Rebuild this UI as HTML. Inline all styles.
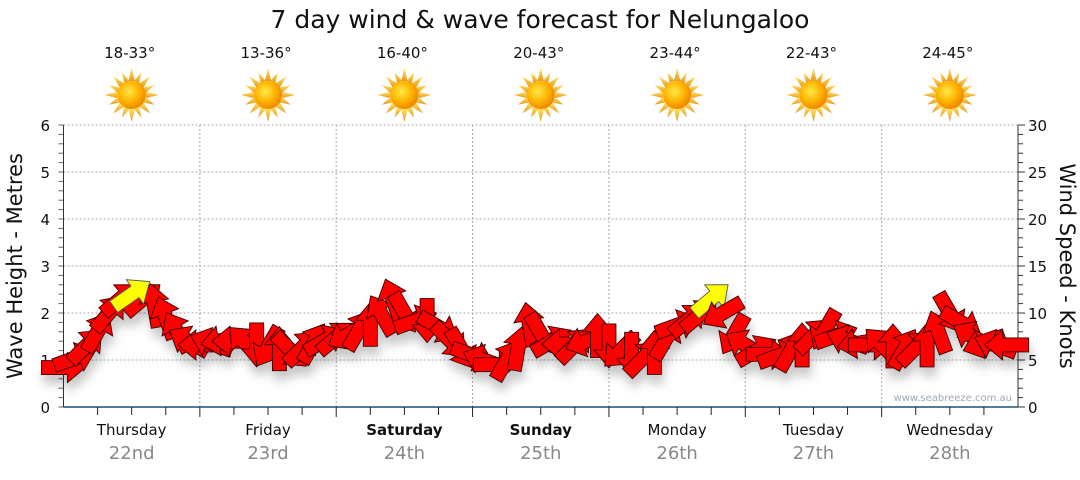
<!DOCTYPE html>
<html><head><meta charset="utf-8">
<style>
body{margin:0;background:#fff;width:1080px;height:475px;overflow:hidden;font-family:"Liberation Sans","DejaVu Sans",sans-serif;}
svg text{font-family:"DejaVu Sans","Liberation Sans",sans-serif;}
</style></head>
<body>
<svg id="chart" width="1080" height="475" viewBox="0 0 1080 475" xmlns="http://www.w3.org/2000/svg">
<defs>
<filter id="shadow" x="-50%" y="-50%" width="200%" height="200%">
<feDropShadow dx="2" dy="9" stdDeviation="5" flood-color="#000" flood-opacity="0.22"/>
</filter>
<radialGradient id="sunG" cx="40%" cy="38%" r="60%">
<stop offset="0" stop-color="#ffe94a"/><stop offset="0.6" stop-color="#ffb400"/><stop offset="1" stop-color="#f08a00"/>
</radialGradient>
<linearGradient id="rayG" x1="0" y1="0" x2="0" y2="1"><stop offset="0" stop-color="#ffe060"/><stop offset="1" stop-color="#e89a20"/></linearGradient>
<symbol id="sun" viewBox="-25 -25 50 50">
<g fill="url(#rayG)">
<polygon points="0,-25 3,-13 -3,-13"/><polygon points="0,25 3,13 -3,13"/>
<polygon points="-25,0 -13,3 -13,-3"/><polygon points="25,0 13,3 13,-3"/>
<polygon points="-17,-17 -7,-11 -11,-7"/><polygon points="17,-17 7,-11 11,-7"/>
<polygon points="-17,17 -7,11 -11,7"/><polygon points="17,17 7,11 11,7"/>
<polygon points="-9,-21 -2,-13 -7,-11"/><polygon points="9,-21 2,-13 7,-11"/>
<polygon points="-9,21 -2,13 -7,11"/><polygon points="9,21 2,13 7,11"/>
<polygon points="-21,-9 -13,-2 -11,-7"/><polygon points="21,-9 13,-2 11,-7"/>
<polygon points="-21,9 -13,2 -11,7"/><polygon points="21,9 13,2 11,7"/>
</g>
<circle r="13" fill="url(#sunG)"/>
</symbol>
</defs>
<text x="540" y="28" text-anchor="middle" font-size="25" fill="#111">7 day wind &amp; wave forecast for Nelungaloo</text>
<g id="grid"></g>
<g id="axes"></g>
<g id="arrows" filter="url(#shadow)"></g>
<text x="1012" y="401" text-anchor="end" font-size="10" fill="#a0a8b8">www.seabreeze.com.au</text>
<text transform="translate(22,266) rotate(-90)" text-anchor="middle" font-size="21" fill="#111">Wave Height - Metres</text>
<text transform="translate(1060,266) rotate(90)" text-anchor="middle" font-size="21" fill="#111">Wind Speed - Knots</text>
</svg>
<script>
const days = ["Thursday","Friday","Saturday","Sunday","Monday","Tuesday","Wednesday"];
const dates = ["22nd","23rd","24th","25th","26th","27th","28th"];
const temps = ["18-33°","13-36°","16-40°","20-43°","23-44°","22-43°","24-45°"];
const boldDays = [false,false,true,true,false,false,false];
const waveTicks = [0,1,2,3,4,5,6];
const windTicks = [0,5,10,15,20,25,30];
const windSpeed = [4.2,5.2,6.5,8,10,11.5,12,11.5,10.8,9.5,8,7,6.6,6.8,7.1,7,6.8,6.6,6.4,6.2,6,6.3,6.8,7.1,7.4,7.7,8.2,8.8,9.8,11.4,10,9.2,9.2,8.5,7.1,6.2,5.5,5,4.5,5,6.2,8.8,7.8,7,6.7,6.6,7,7.6,6.5,6,5.6,5.2,5.8,7.2,8.7,9.3,9.8,11.5,10,7.7,6.6,6,5.6,5.5,6,6.6,7.6,8.2,7.6,7.1,6.8,6.6,6.6,6.5,6.2,6.3,6.6,8,10,9,7.5,6.8,6.6,6.6];
const windDir = [0,-20,-45,-60,-50,-40,-35,-40,-100,-110,-120,-150,180,-160,170,180,-135,90,120,-90,45,-45,-60,-30,-40,150,-60,-90,-120,-110,60,-20,90,30,45,60,20,-160,0,-60,-80,-100,60,-30,180,-45,160,-90,90,135,90,-45,-90,-60,-20,-40,-40,-40,150,120,-150,-30,0,-20,-60,-90,-45,120,-20,-160,170,0,-135,-90,-60,-45,-90,-110,60,30,-150,160,-160,180];
const yellowIdx = [6,57];

const NS="http://www.w3.org/2000/svg";
const X0=63.5, X1=1018, Y0=407, Y1=125, dayW=(X1-X0)/7;
const yWave=v=>Y0-(Y0-Y1)*v/6;
const yWind=v=>Y0-(Y0-Y1)*v/30;
const xHour=h=>X0+dayW*h/24;
function el(tag,attrs,parent,txt){const e=document.createElementNS(NS,tag);for(const k in attrs)e.setAttribute(k,attrs[k]);if(txt!==undefined)e.textContent=txt;parent.appendChild(e);return e;}
const grid=document.getElementById('grid'), axes=document.getElementById('axes'), svg=document.getElementById('chart');

waveTicks.forEach(v=>{
  if(v>0){const l=el('line',{x1:X0,x2:X1,y1:yWave(v),y2:yWave(v),stroke:'#aaa','stroke-dasharray':'2,2'},grid);
  
  }
  const t=el('text',{x:50,y:yWave(v)+6,'text-anchor':'end','font-size':15,fill:'#111'},axes,String(v));
  
  
});
for(let v=0;v<=6.001;v+=0.2){el('line',{x1:X0-5,x2:X0,y1:yWave(v),y2:yWave(v),stroke:'#666'},axes);}
windTicks.forEach(v=>{
  const t=el('text',{x:1028,y:yWind(v)+6,'font-size':15,fill:'#111'},axes,String(v));
  
  
});
for(let v=0;v<=30.001;v+=1){el('line',{x1:X1,x2:X1+(v%5===0?7:5),y1:yWind(v),y2:yWind(v),stroke:'#333'},axes);}
el('line',{x1:X0,x2:X0,y1:Y1,y2:Y0,stroke:'#333'},axes);
el('line',{x1:X1,x2:X1,y1:Y1,y2:Y0,stroke:'#333'},axes);
el('line',{x1:X0,x2:X1,y1:Y0,y2:Y0,stroke:'#1f4e79','stroke-width':1.5},axes);
for(let h=6;h<168;h+=6){el('line',{x1:xHour(h),x2:xHour(h),y1:Y0,y2:Y0+(h%24===0?10:8),stroke:'#222'},axes);}
days.forEach((d,i)=>{
  const cx=X0+dayW*(i+0.5);
  if(i>0){const g=el('line',{x1:X0+dayW*i,x2:X0+dayW*i,y1:Y1,y2:Y0,stroke:'#aaa','stroke-dasharray':'2,2'},grid);
  
  }
  const a=el('text',{x:cx,y:435,'text-anchor':'middle','font-size':15,fill:'#111','font-weight':boldDays[i]?'bold':'normal'},svg,d);
  
  
  const b=el('text',{x:cx,y:459,'text-anchor':'middle','font-size':18,fill:'#888'},svg,dates[i]);
  
  
  const t=el('text',{x:cx-2,y:58,'text-anchor':'middle','font-size':15,fill:'#111'},svg,temps[i]);
  
  
  const s=el('use',{href:'#sun',x:cx-27,y:68,width:54,height:54},svg);
  
  
});
const arrows=document.getElementById('arrows');
const shape="M-22,-7 L4,-7 L4,-15 L22,0 L4,15 L4,7 L-22,7 Z";
windSpeed.forEach((v,i)=>{
  const x=xHour(i*2), y=yWind(v);
  const yl=yellowIdx.includes(i);
  const p=el('path',{d:shape,fill:yl?'#ffff00':'#ff0000',stroke:yl?'#555':'#3a0000','stroke-width':0.9,transform:`translate(${x},${y}) rotate(${windDir[i]})`},arrows);
  
  
});
yellowIdx.forEach(i=>arrows.appendChild(arrows.children[i]));
</script>
</body></html>
